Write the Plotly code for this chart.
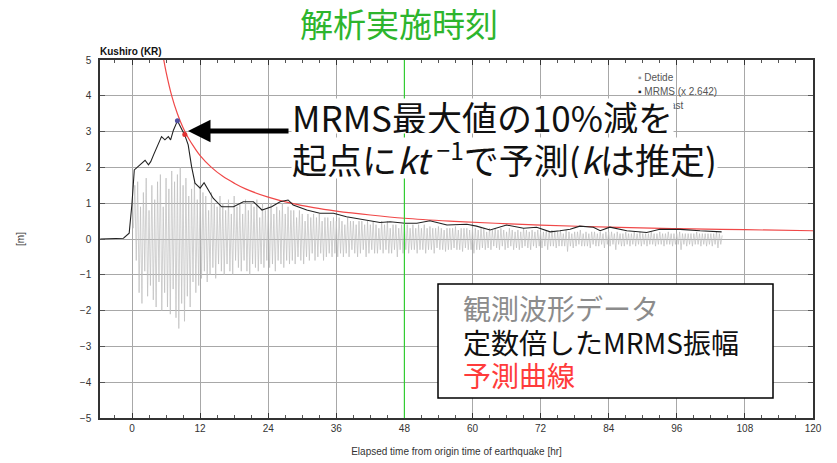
import numpy as np
import plotly.graph_objects as go

# ---------------- data ----------------
mrms_t = [-5.6, -1.5, -0.5, 0.0, 0.4, 1.4, 2.3, 2.9, 3.3, 3.8, 4.5, 5.2, 5.8, 6.4, 6.8, 7.3, 8.0, 8.5,
          9.3, 9.9, 10.5, 11.1, 12.0, 12.7, 13.4, 14.3, 15.8, 17.9, 19.6, 21.4, 22.9, 24.6, 26.1, 27.5,
          28.4, 30.8, 33.1, 35.5, 37.8, 40.8, 43.7, 45.5, 48.1, 50.2, 52.5, 55.5, 59.0, 60.7, 63.1,
          66.0, 69.0, 71.3, 73.7, 75.4, 77.2, 78.9, 81.3, 82.5, 84.2, 87.2, 90.7, 93.0, 96.6, 100.1, 103.9]
mrms_v = [0.0, 0.02, 0.16, 1.0, 1.93, 2.07, 2.2, 2.07, 2.16, 2.35, 2.6, 2.86, 2.77, 2.86, 2.77, 3.04, 3.30, 3.14,
          2.9, 2.63, 2.02, 1.56, 1.42, 1.57, 1.37, 1.14, 0.9, 0.9, 1.04, 1.04, 0.81, 0.9, 1.04, 1.09,
          0.95, 0.81, 0.72, 0.72, 0.62, 0.53, 0.46, 0.48, 0.44, 0.44, 0.51, 0.39, 0.41, 0.36, 0.25,
          0.39, 0.30, 0.33, 0.2, 0.23, 0.27, 0.36, 0.33, 0.23, 0.33, 0.23, 0.18, 0.27, 0.27, 0.23, 0.2]

forecast_t = [5.5, 6, 7, 8, 9, 10, 11, 12, 14, 16, 18, 20, 24, 28, 32, 36, 42, 48, 56, 64, 72, 84, 96, 108, 120]
forecast_v = [5.09, 4.67, 4.0, 3.5, 3.11, 2.8, 2.55, 2.33, 2.0, 1.75, 1.56, 1.4, 1.17, 1.0, 0.875, 0.78,
              0.67, 0.58, 0.5, 0.44, 0.39, 0.33, 0.29, 0.26, 0.23]

peak_point = [8.0, 3.30]
start_point = [9.3, 2.92]
analysis_time = 48

detide_start = 0.25
detide_step = 0.25
detide_v = [
    0.3, 1.5, -0.6, 1.6, -1.5, 0.9, -1.8, 1.3, -0.9, 1.7, -1.6, 0.8, -1.3, 1.5, -1.7, 1.1,
    -1.9, 1.6, -1.2, 1.8, -2.0, 0.9, -1.5, 1.7, -1.9, 1.4, -2.1, 1.9, -1.4, 1.6, -2.2, 1.8,
    -2.5, 2.0, -1.8, 1.5, -2.3, 1.7, -1.6, 1.2, -1.9, 1.4, -1.2, 1.6, -1.5, 1.1, -1.3, 1.5,
    -1.1, 1.3, -0.9, 1.2, -1.2, 0.8, -1.0, 1.3, -0.8, 1.0, -1.1, 0.9, -0.7, 1.2, -0.9, 1.0,
    -1.0, 0.8, -0.7, 1.1, -0.9, 0.7, -1.0, 1.2, -0.6, 0.9, -0.8, 1.0, -0.9, 0.7, -0.6, 1.1,
    -0.9, 0.8, -1.0, 1.0, -0.7, 0.9, -0.8, 1.1, -0.9, 0.6, -0.7, 1.0, -0.8, 0.8, -0.6, 0.9,
    -0.8, 1.0, -0.7, 0.7, -0.9, 0.9, -0.6, 0.8, -0.7, 1.0, -0.8, 0.7, -0.6, 0.9, -0.7, 0.8,
    -0.6, 0.8, -0.7, 0.6, -0.5, 0.8, -0.6, 0.7, -0.7, 0.5, -0.5, 0.7, -0.6, 0.6, -0.4, 0.7,
    -0.6, 0.6, -0.5, 0.7, -0.4, 0.5, -0.6, 0.6, -0.5, 0.6, -0.4, 0.5, -0.5, 0.6, -0.4, 0.5,
    -0.5, 0.6, -0.4, 0.5, -0.5, 0.4, -0.4, 0.6, -0.5, 0.5, -0.3, 0.5, -0.4, 0.4, -0.5, 0.5,
    -0.4, 0.5, -0.3, 0.4, -0.5, 0.5, -0.4, 0.4, -0.3, 0.5, -0.4, 0.4, -0.4, 0.3, -0.3, 0.5,
    -0.4, 0.4, -0.3, 0.5, -0.4, 0.3, -0.4, 0.4, -0.3, 0.4, -0.5, 0.3, -0.3, 0.4, -0.4, 0.4,
    -0.3, 0.4, -0.4, 0.3, -0.3, 0.4, -0.3, 0.3, -0.4, 0.4, -0.3, 0.3, -0.3, 0.4, -0.4, 0.3,
    -0.3, 0.35, -0.3, 0.3, -0.4, 0.3, -0.25, 0.35, -0.3, 0.3, -0.3, 0.25, -0.35, 0.3, -0.3, 0.3,
    -0.3, 0.3, -0.25, 0.35, -0.3, 0.25, -0.3, 0.3, -0.35, 0.3, -0.25, 0.3, -0.3, 0.25, -0.3, 0.3,
    -0.4, 0.3, -0.3, 0.25, -0.3, 0.3, -0.25, 0.3, -0.3, 0.2, -0.25, 0.3, -0.3, 0.25, -0.2, 0.3,
    -0.25, 0.25, -0.3, 0.3, -0.2, 0.25, -0.3, 0.2, -0.25, 0.3, -0.2, 0.25, -0.3, 0.2, -0.25, 0.25,
    -0.3, 0.2, -0.25, 0.3, -0.2, 0.25, -0.25, 0.2, -0.3, 0.25, -0.2, 0.2, -0.25, 0.25, -0.2, 0.2,
    -0.25, 0.2, -0.2, 0.25, -0.3, 0.2, -0.2, 0.25, -0.2, 0.2, -0.25, 0.2, -0.2, 0.25, -0.2, 0.15,
    -0.2, 0.25, -0.35, 0.2, -0.2, 0.15, -0.25, 0.2, -0.2, 0.2, -0.15, 0.25, -0.2, 0.15, -0.2, 0.2,
    -0.2, 0.15, -0.25, 0.2, -0.15, 0.2, -0.2, 0.15, -0.2, 0.2, -0.15, 0.15, -0.25, 0.2, -0.15, 0.2,
    -0.2, 0.2, -0.15, 0.15, -0.3, 0.2, -0.15, 0.15, -0.2, 0.15, -0.2, 0.2, -0.15, 0.15, -0.2, 0.15,
    -0.15, 0.2, -0.2, 0.15, -0.15, 0.2, -0.2, 0.15, -0.15, 0.15, -0.2, 0.15, -0.15, 0.2, -0.15, 0.15,
    -0.2, 0.15, -0.15, 0.2, -0.15, 0.15, -0.2, 0.15, -0.15, 0.2, -0.15, 0.15, -0.2, 0.15, -0.15, 0.15,
    -0.15, 0.2, -0.3, 0.15, -0.15, 0.15, -0.2, 0.15, -0.15, 0.15, -0.2, 0.15, -0.15, 0.2, -0.15, 0.15,
    -0.2, 0.15, -0.15, 0.15, -0.2, 0.15, -0.15, 0.15, -0.2, 0.15, -0.15, 0.2, -0.25, 0.15, -0.15, 0.1,
]
detide_t = detide_start + detide_step * np.arange(len(detide_v))

x_ticks = [0, 12, 24, 36, 48, 60, 72, 84, 96, 108, 120]
y_ticks = [5, 4, 3, 2, 1, 0, -1, -2, -3, -4, -5]

# ---------------- layout helpers (pixel -> paper) ----------------
W, H = 837, 463
L, R, T, B = 100, 24, 60, 45
PW, PH = W - L - R, H - T - B


def px(x):
    return (x - L) / PW


def py(y):
    return (H - B - y) / PH


TXT = "Liberation Sans, Arial, sans-serif"
JP = "Noto Sans CJK JP, sans-serif"

fig = go.Figure()
fig.add_trace(go.Scatter(x=detide_t, y=detide_v, mode="lines",
                         line=dict(color="#bdbdbd", width=0.7), showlegend=False, hoverinfo="skip"))
fig.add_trace(go.Scatter(x=forecast_t, y=forecast_v, mode="lines", line_shape="spline",
                         line=dict(color="#f04848", width=1.2), showlegend=False))
fig.add_trace(go.Scatter(x=mrms_t, y=mrms_v, mode="lines",
                         line=dict(color="#222222", width=1.1), showlegend=False))
fig.add_trace(go.Scatter(x=[peak_point[0]], y=[peak_point[1]], mode="markers",
                         marker=dict(color="#5050a0", size=5), showlegend=False))
fig.add_trace(go.Scatter(x=[start_point[0]], y=[start_point[1]], mode="markers",
                         marker=dict(color="#e03030", size=5), showlegend=False))

shapes = [
    dict(type="line", xref="x", yref="paper", x0=analysis_time, x1=analysis_time, y0=0, y1=1,
         line=dict(color="#33cc33", width=1.2), layer="above"),
    dict(type="rect", xref="paper", yref="paper", x0=px(438), x1=px(773), y0=py(398), y1=py(284),
         line=dict(color="#000000", width=1.5), fillcolor="#ffffff", layer="above"),
]

annotations = [
    dict(text="解析実施時刻", x=px(399), y=py(23), xref="paper", yref="paper", showarrow=False,
         xanchor="center", yanchor="middle", font=dict(family=JP, size=33, color="#2db52d")),
    dict(text="<b>Kushiro (KR)</b>", x=px(98), y=py(51), xref="paper", yref="paper", showarrow=False,
         xanchor="left", yanchor="middle", font=dict(family=TXT, size=10, color="#111111")),
    # mini legend of the original plot
    dict(text="<span style='color:#999999'>▪</span> Detide", x=px(636), y=py(77), xref="paper", yref="paper",
         showarrow=False, xanchor="left", yanchor="middle", font=dict(family=TXT, size=10, color="#555555")),
    dict(text="<span style='color:#222222'>▪</span> MRMS (x 2.642)", x=px(636), y=py(91), xref="paper",
         yref="paper", showarrow=False, xanchor="left", yanchor="middle",
         font=dict(family=TXT, size=10, color="#555555")),
    dict(text="<span style='color:#e03030'>▪</span> Forecast", x=px(636), y=py(105), xref="paper",
         yref="paper", showarrow=False, xanchor="left", yanchor="middle",
         font=dict(family=TXT, size=10, color="#555555")),
    # big explanatory text
    dict(text="MRMS最大値の10%減を", x=px(291), y=py(116), xref="paper", yref="paper", showarrow=False,
         xanchor="left", yanchor="middle", bgcolor="#ffffff", borderpad=0, height=34, valign="middle",
         font=dict(family=JP, size=35, color="#111111")),
    dict(text="起点に<i>kt</i> <sup>−1</sup>で予測(<i>k</i>は推定)", x=px(291), y=py(158), xref="paper",
         yref="paper", showarrow=False, xanchor="left", yanchor="middle", bgcolor="#ffffff", borderpad=0,
         height=40, valign="middle", font=dict(family=JP, size=35, color="#111111")),
    # arrow
    dict(text="", x=px(188), y=py(131), xref="paper", yref="paper", ax=102, ay=0, showarrow=True,
         arrowhead=2, arrowsize=0.9, arrowwidth=5, arrowcolor="#000000"),
    # boxed legend
    dict(text="観測波形データ", x=px(461), y=py(308), xref="paper", yref="paper", showarrow=False,
         xanchor="left", yanchor="middle", font=dict(family=JP, size=28, color="#8c8c8c")),
    dict(text="定数倍したMRMS振幅", x=px(461), y=py(342), xref="paper", yref="paper", showarrow=False,
         xanchor="left", yanchor="middle", font=dict(family=JP, size=28, color="#111111")),
    dict(text="予測曲線", x=px(461), y=py(375), xref="paper", yref="paper", showarrow=False,
         xanchor="left", yanchor="middle", font=dict(family=JP, size=28, color="#ff3b3b")),
]

fig.update_layout(
    width=W, height=H, margin=dict(l=L, r=R, t=T, b=B, autoexpand=False),
    paper_bgcolor="#ffffff", plot_bgcolor="#ffffff",
    shapes=shapes, annotations=annotations, showlegend=False,
    xaxis=dict(range=[-5.64, 120], tickvals=x_ticks, ticktext=[str(v) for v in x_ticks],
               automargin=False,
               showgrid=True, gridcolor="#a8a8a8", gridwidth=1, zeroline=False,
               showline=True, linecolor="#333333", linewidth=1.5, mirror="ticks",
               ticks="inside", ticklen=5, tickcolor="#333333",
               minor=dict(dtick=3, tick0=0, ticks="inside", ticklen=3, tickcolor="#555555", showgrid=False),
               tickfont=dict(family=TXT, size=10, color="#333333"),
               title=dict(text="Elapsed time from origin time of earthquake [hr]", standoff=15,
                          font=dict(family=TXT, size=10, color="#333333"))),
    yaxis=dict(range=[-5, 5], tickvals=y_ticks, ticktext=[str(v).replace("-", "−") for v in y_ticks],
               automargin=False, ticklabelstandoff=5,
               showgrid=True, gridcolor="#a8a8a8", gridwidth=1, zeroline=False,
               showline=True, linecolor="#333333", linewidth=1.5, mirror="ticks",
               ticks="inside", ticklen=5, tickcolor="#555555",
               tickfont=dict(family=TXT, size=10, color="#333333"),
               title=dict(text="[m]", standoff=53, font=dict(family=TXT, size=10, color="#333333"))),
)

fig.write_html("out.html")
